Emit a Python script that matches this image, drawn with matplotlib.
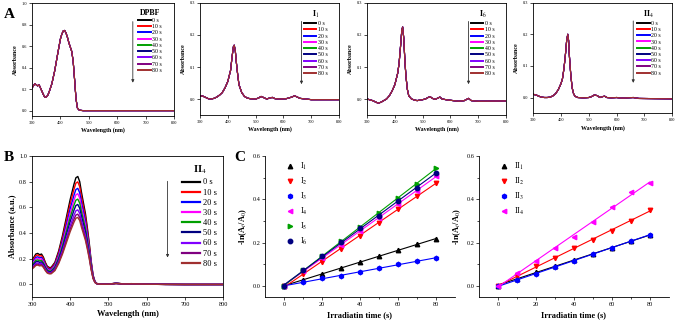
import matplotlib.pyplot as plt
import numpy as np

plt.rcParams['font.family'] = ['Liberation Serif', 'DejaVu Serif']
plt.rcParams['mathtext.fontset'] = 'stix'

times = ['0 s', '10 s', '20 s', '30 s', '40 s', '50 s', '60 s', '70 s', '80 s']
colors = ['black', 'red', 'blue', 'magenta', '#00a000', '#000080', '#8000ff', '#800080', '#a03030']

# panel A spectra (all irradiation times overlap)
dpbf_wl = [300, 305, 310, 315, 320, 325, 330, 335, 340, 345, 350, 355, 360, 370, 380, 390, 400, 405,
           410, 415, 420, 425, 430, 435, 440, 445, 450, 455, 460, 465, 470, 480, 500, 600, 700, 800]
dpbf_abs = [0.21, 0.23, 0.25, 0.24, 0.23, 0.24, 0.21, 0.18, 0.15, 0.125, 0.125, 0.14, 0.17, 0.25, 0.37,
            0.52, 0.665, 0.71, 0.74, 0.745, 0.72, 0.68, 0.63, 0.59, 0.55, 0.46, 0.29, 0.11, 0.025, 0.008,
            0.003, 0.0, 0.0, 0.0, 0.0, 0.0]

i1_wl = [300, 310, 320, 330, 340, 350, 360, 370, 380, 390, 400, 410, 415, 420, 423, 427, 430, 435, 440,
         450, 460, 470, 480, 500, 510, 520, 530, 540, 550, 560, 570, 590, 610, 630, 640, 650, 660, 680,
         700, 800]
i1_abs = [0.01, 0.009, 0.005, 0.001, 0.0, 0.002, 0.006, 0.012, 0.02, 0.035, 0.055, 0.09, 0.13, 0.163,
          0.168, 0.15, 0.12, 0.08, 0.045, 0.02, 0.008, 0.003, 0.001, 0.0, 0.003, 0.008, 0.004, 0.0, 0.003,
          0.005, 0.001, 0.0, 0.001, 0.006, 0.01, 0.006, 0.002, 0.0, -0.002, -0.002]

i6_wl = [300, 320, 340, 350, 360, 370, 380, 390, 400, 410, 415, 420, 425, 428, 432, 436, 440, 445, 450,
         460, 470, 480, 500, 510, 520, 527, 535, 545, 555, 562, 570, 590, 610, 630, 650, 665, 675, 700, 800]
i6_abs = [0.0, -0.005, -0.013, -0.01, -0.005, 0.0, 0.01, 0.025, 0.045, 0.08, 0.11, 0.16, 0.215, 0.225,
          0.19, 0.12, 0.07, 0.03, 0.01, 0.0, -0.003, -0.005, -0.002, 0.0, 0.005, 0.007, 0.002, -0.001,
          0.003, 0.006, 0.0, -0.003, -0.005, -0.007, -0.005, 0.002, -0.005, -0.007, -0.006]

ii4_wl = [300, 310, 320, 330, 340, 350, 360, 370, 380, 390, 400, 405, 410, 415, 420, 424, 427, 430, 435,
          440, 445, 450, 460, 480, 500, 510, 520, 530, 540, 550, 557, 565, 580, 600, 620, 640, 660, 680, 800]
ii4_abs = [0.01, 0.008, 0.004, 0.001, 0.0, 0.0, 0.001, 0.005, 0.012, 0.025, 0.045, 0.06, 0.09, 0.13, 0.18,
           0.2, 0.18, 0.13, 0.07, 0.03, 0.012, 0.004, 0.0, -0.001, 0.0, 0.003, 0.008, 0.006, 0.0, 0.003,
           0.004, 0.0, -0.001, 0.0, -0.002, -0.001, 0.0, -0.003, -0.004]

# panel B: II4 in DPBF, 0 s spectrum and relative decay per time
b_wl = [300, 305, 310, 315, 320, 325, 330, 335, 340, 345, 350, 360, 370, 380, 390, 400, 410, 415, 420,
        425, 430, 435, 440, 445, 450, 455, 460, 465, 470, 480, 500, 520, 540, 560, 600, 650, 700, 800]
b_abs0 = [0.19, 0.21, 0.235, 0.24, 0.23, 0.235, 0.21, 0.17, 0.14, 0.13, 0.13, 0.17, 0.26, 0.38, 0.52,
          0.66, 0.78, 0.83, 0.84, 0.80, 0.71, 0.63, 0.55, 0.44, 0.32, 0.18, 0.07, 0.02, 0.005, 0.0, 0.0,
          0.008, 0.002, 0.004, 0.0, -0.002, -0.003, -0.003]
b_decay = [1.0, 0.95, 0.89, 0.84, 0.79, 0.74, 0.69, 0.65, 0.62]

# panel C kinetics
t = [0, 10, 20, 30, 40, 50, 60, 70, 80]
c_I = {
    'I$_1$': [0.0, 0.029, 0.057, 0.083, 0.113, 0.139, 0.167, 0.193, 0.216],
    'I$_2$': [0.0, 0.054, 0.113, 0.171, 0.233, 0.293, 0.355, 0.415, 0.477],
    'I$_3$': [0.0, 0.019, 0.036, 0.048, 0.066, 0.082, 0.100, 0.114, 0.131],
    'I$_4$': [0.0, 0.070, 0.131, 0.192, 0.256, 0.315, 0.377, 0.440, 0.508],
    'I$_5$': [0.0, 0.074, 0.137, 0.207, 0.273, 0.338, 0.406, 0.473, 0.545],
    'I$_6$': [0.0, 0.073, 0.137, 0.204, 0.266, 0.324, 0.392, 0.454, 0.524],
}
c_II = {
    'II$_1$': [0.0, 0.035, 0.065, 0.095, 0.122, 0.148, 0.177, 0.207, 0.235],
    'II$_2$': [0.0, 0.045, 0.092, 0.132, 0.177, 0.215, 0.255, 0.300, 0.353],
    'II$_3$': [0.0, 0.028, 0.058, 0.088, 0.118, 0.148, 0.178, 0.207, 0.238],
    'II$_4$': [0.0, 0.060, 0.118, 0.178, 0.225, 0.294, 0.363, 0.432, 0.478],
}
c_colors = ['black', 'red', 'blue', 'magenta', '#00a000', '#000080']
c_markers = ['^', 'v', 'h', '<', '>', 'o']

fig = plt.figure(figsize=(6.76, 3.21), dpi=100)


def style_axes(ax, size):
    ax.tick_params(direction='out', length=2, width=0.5, labelsize=size, pad=1.5)
    for s in ax.spines.values():
        s.set_linewidth(0.6)


def spectrum_panel(rect, wl, absb, ylim, yticks, title, factors, fs, lfs, lw, legpos, arrow):
    ax = fig.add_axes(rect)
    for i, lab in enumerate(times):
        ax.plot(wl, np.array(absb) * factors[i], color=colors[i], lw=lw, label=lab)
    ax.set_xlim(300, 800)
    ax.set_ylim(*ylim)
    ax.set_xticks([300, 400, 500, 600, 700, 800])
    ax.set_yticks(yticks)
    ax.set_yticklabels(['%.1f' % v for v in yticks])
    style_axes(ax, fs)
    leg = ax.legend(loc='upper left', bbox_to_anchor=legpos, frameon=False, fontsize=lfs,
                    title=title, title_fontproperties={'weight': 'bold', 'size': lfs + 1.5},
                    handlelength=2.2, handletextpad=0.3, labelspacing=lfs * 0.035 + 0.05,
                    borderpad=0.1)
    for h in leg.legend_handles:
        h.set_linewidth(lw + 0.6)
    ax.annotate('', xy=(arrow[0], arrow[2]), xytext=(arrow[0], arrow[1]), xycoords='axes fraction',
                arrowprops=dict(arrowstyle='-|>', color='#333333', lw=0.6, mutation_scale=4))
    return ax


same = [1.0] * 9
a1 = spectrum_panel([0.0473, 0.6386, 0.2101, 0.352], dpbf_wl, dpbf_abs, (-0.05, 1.0),
                    [0.0, 0.2, 0.4, 0.6, 0.8, 1.0], 'DPBF', same, 3.2, 4.2, 0.8, (0.72, 0.98),
                    (0.71, 0.86, 0.27))
a2 = spectrum_panel([0.2959, 0.6417, 0.2056, 0.349], i1_wl, i1_abs, (-0.05, 0.3),
                    [0.0, 0.1, 0.2, 0.3], 'I$_1$', same, 3.2, 4.2, 0.8, (0.72, 0.98),
                    (0.73, 0.86, 0.25))
a3 = spectrum_panel([0.543, 0.6417, 0.2056, 0.349], i6_wl, i6_abs, (-0.05, 0.3),
                    [0.0, 0.1, 0.2, 0.3], 'I$_6$', same, 3.2, 4.2, 0.8, (0.72, 0.98),
                    (0.73, 0.86, 0.25))
a4 = spectrum_panel([0.789, 0.647, 0.2052, 0.3446], ii4_wl, ii4_abs, (-0.05, 0.3),
                    [0.0, 0.1, 0.2, 0.3], 'II$_4$', same, 3.2, 4.2, 0.8, (0.72, 0.98),
                    (0.72, 0.86, 0.25))
for ax in (a1, a2, a3, a4):
    ax.set_xlabel('Wavelength (nm)', fontsize=4.3, fontweight='bold', labelpad=2)
    ax.set_ylabel('Absorbance', fontsize=4.3, fontweight='bold', labelpad=3)

b = spectrum_panel([0.0473, 0.0748, 0.2825, 0.4393], b_wl, b_abs0, (-0.1, 1.0),
                   [0.0, 0.2, 0.4, 0.6, 0.8, 1.0], 'II$_4$', b_decay, 4.5, 6, 1.0, (0.76, 0.98),
                   (0.71, 0.84, 0.26))
b.set_xlabel('Wavelength (nm)', fontsize=6, fontweight='bold', labelpad=2)
b.set_ylabel('Absorbance (a.u.)', fontsize=6, fontweight='bold', labelpad=2)


def kinetic_panel(rect, data):
    ax = fig.add_axes(rect)
    tt = np.array(t)
    for i, (lab, y) in enumerate(data.items()):
        k, c0 = np.polyfit(tt, y, 1)
        ax.plot(tt, k * tt + c0, color=c_colors[i], lw=0.8)
        ax.plot(tt, y, ls='none', marker=c_markers[i], ms=3.2, color=c_colors[i], label=lab)
    ax.set_xlim(-10, 90)
    ax.set_ylim(-0.05, 0.6)
    ax.set_xticks([0, 20, 40, 60, 80])
    ax.set_xticks([10, 30, 50, 70], minor=True)
    ax.set_yticks([0.0, 0.2, 0.4, 0.6])
    ax.set_yticks([0.1, 0.3, 0.5], minor=True)
    ax.set_yticklabels(['0.0', '0.2', '0.4', '0.6'])
    ax.spines['top'].set_visible(False)
    ax.spines['right'].set_visible(False)
    style_axes(ax, 4.5)
    ax.tick_params(which='minor', direction='out', length=1.2, width=0.5)
    ax.set_xlabel('Irradiatin time (s)', fontsize=6, fontweight='bold', labelpad=3)
    ax.set_ylabel('-ln(A$_t$/A$_0$)', fontsize=6, fontweight='bold', labelpad=2)
    ax.legend(loc='upper left', bbox_to_anchor=(0.08, 1.0), frameon=False, fontsize=6,
              handlelength=1.2, handletextpad=0.6, labelspacing=0.45, borderpad=0.1)
    return ax


kinetic_panel([0.392, 0.0748, 0.281, 0.439], c_I)
kinetic_panel([0.7086, 0.0748, 0.281, 0.439], c_II)

fig.text(0.006, 0.975, 'A', fontsize=11, fontweight='bold', va='top')
fig.text(0.006, 0.53, 'B', fontsize=11, fontweight='bold', va='top')
fig.text(0.346, 0.53, 'C', fontsize=11, fontweight='bold', va='top')

fig.savefig('out.png', dpi=100)
